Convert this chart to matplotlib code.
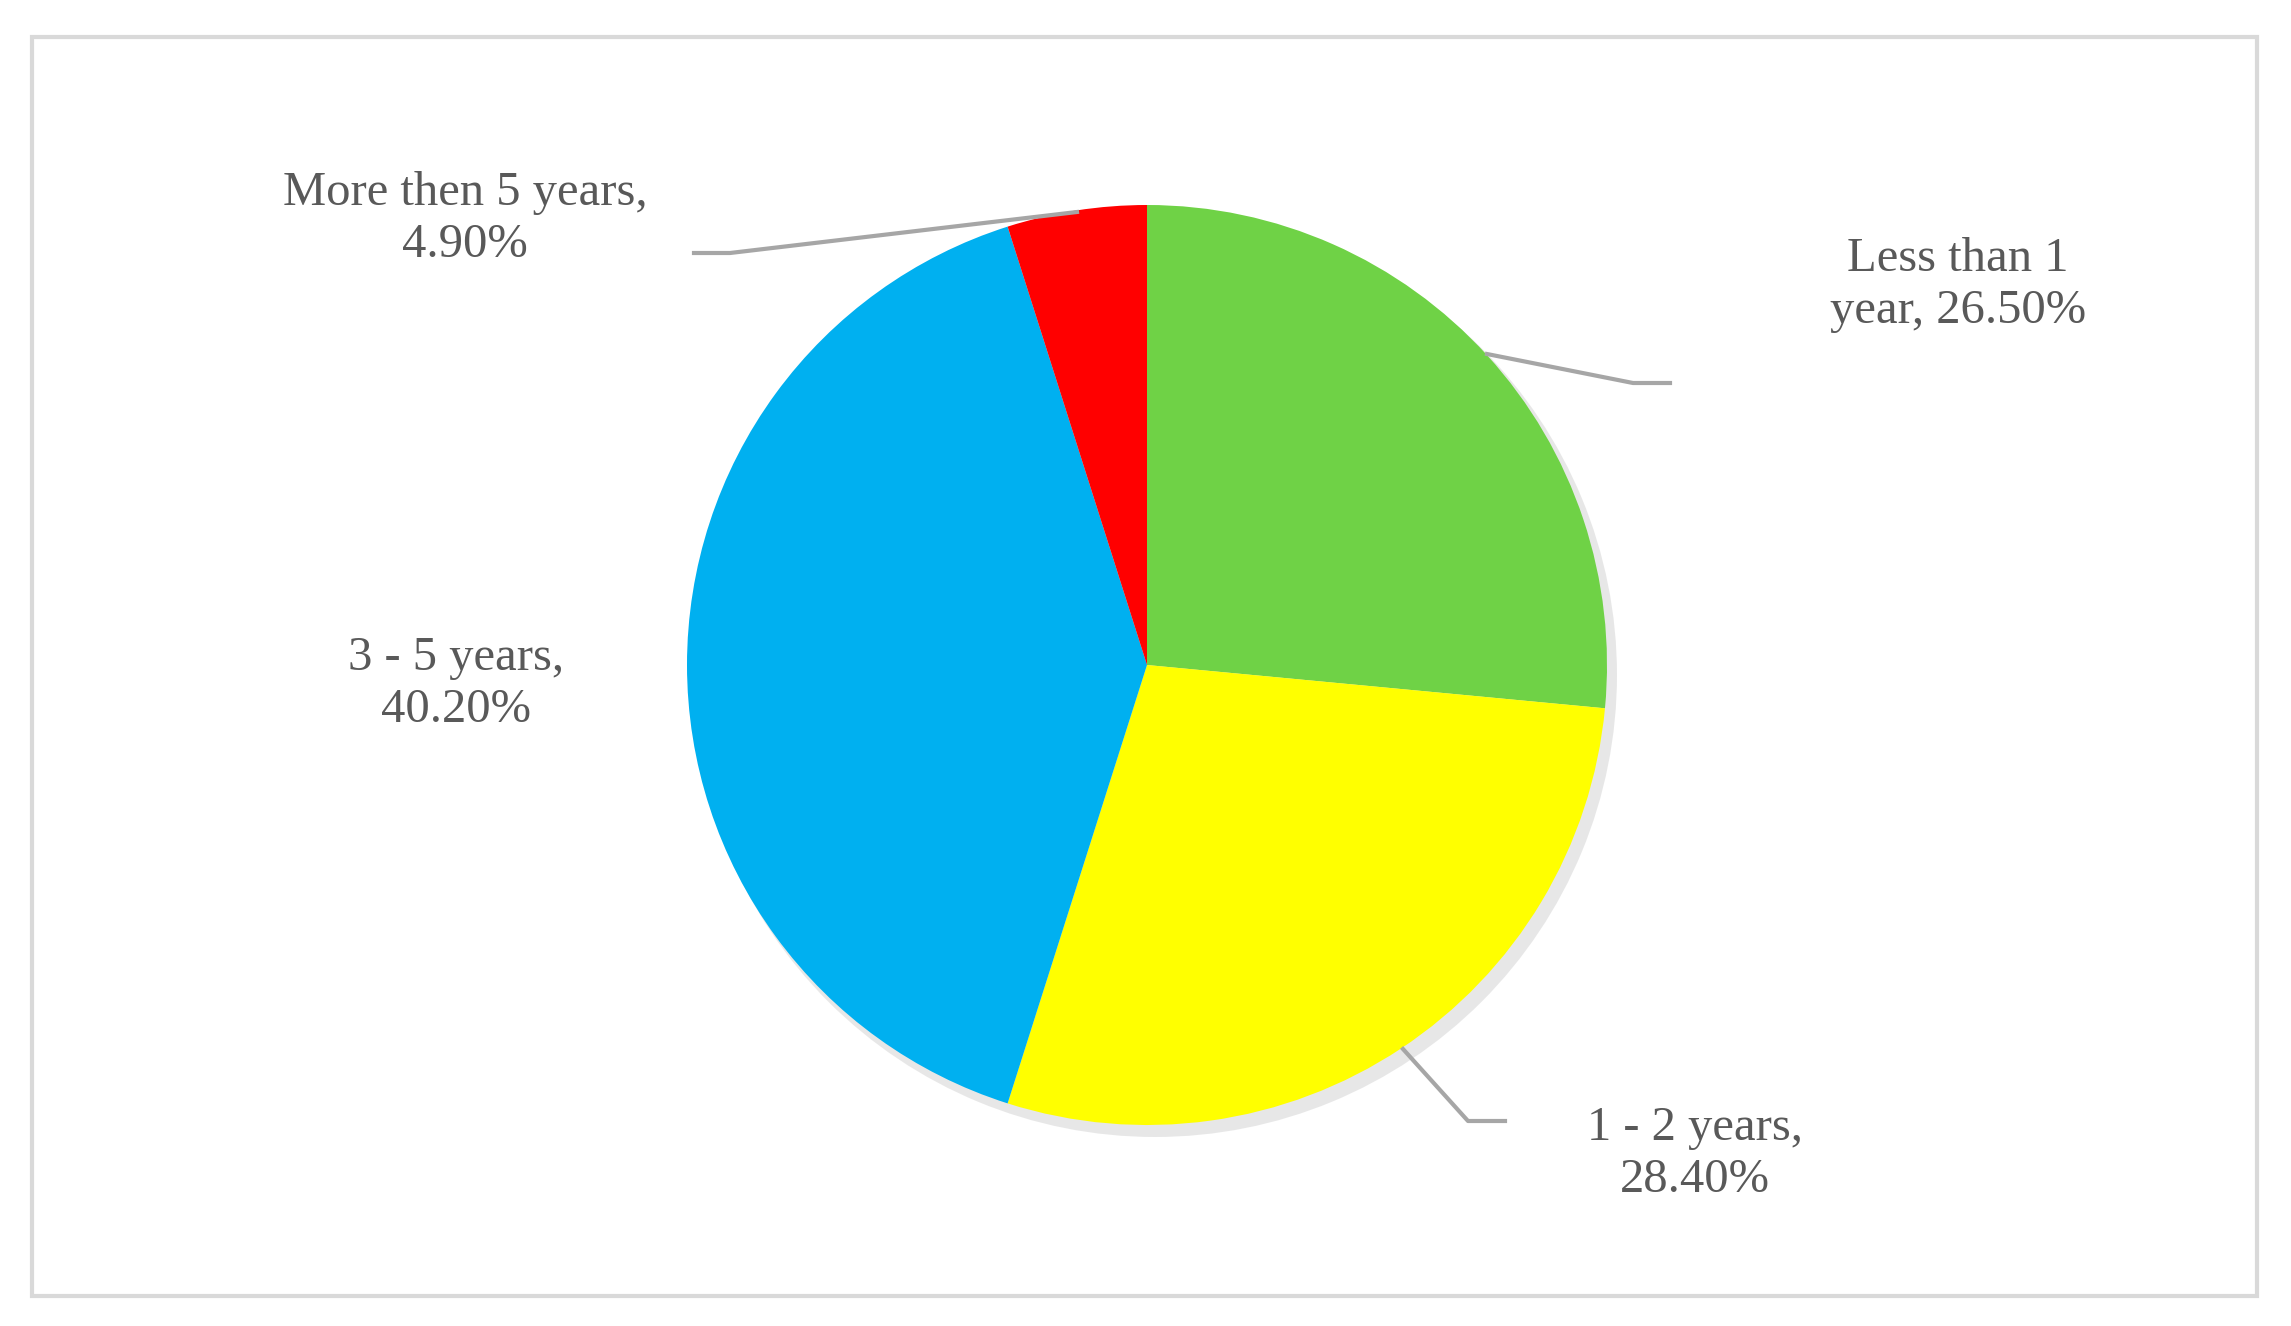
import matplotlib
matplotlib.use("Agg")
import matplotlib.pyplot as plt
from matplotlib.patches import Rectangle

categories = ["Less than 1 year", "1 - 2 years", "3 - 5 years", "More then 5 years"]
values = [26.5, 28.4, 40.2, 4.9]
labels = ["Less than 1\nyear, 26.50%", "1 - 2 years,\n28.40%", "3 - 5 years,\n40.20%", "More then 5 years,\n4.90%"]
colors = ["#6FD246", "#FFFF00", "#00B0F0", "#FF0000"]

W, H = 2291, 1326
fig = plt.figure(figsize=(W/100, H/100), dpi=100)
ax = fig.add_axes([0, 0, 1, 1])
ax.set_xlim(0, W); ax.set_ylim(0, H); ax.set_aspect('equal'); ax.axis('off')

def Y(y): return H - y

ax.add_patch(Rectangle((32, Y(1296)), 2225, 1259, fill=False, ec="#D9D9D9", lw=3))

cx, cy, r = 1147, Y(665), 460
# soft shadow
ax.pie([1], colors=["#d8d8d8"], center=(cx+8, cy-10), radius=r+2, frame=True,
       wedgeprops=dict(linewidth=0, alpha=0.6))
ax.pie(values, colors=colors, startangle=90, counterclock=False, center=(cx, cy), radius=r,
       frame=True, wedgeprops=dict(linewidth=0))
ax.set_xlim(0, W); ax.set_ylim(0, H); ax.axis('off')

tc = "#595959"
font = dict(family="Liberation Serif", fontsize=35, color=tc, ha="center", va="center", linespacing=1.25)
pos = [(1958, 285), (1695, 1154), (456, 684), (465, 219)]
for lab, (x, y) in zip(labels, pos):
    ax.text(x, Y(y), lab, **font)

leaders = [[(1487, 354), (1633, 383), (1670, 383)],
           [(1403, 1049), (1468, 1121), (1505, 1121)],
           [(1077, 212), (730, 253), (694, 253)]]
for pts in leaders:
    ax.plot([p[0] for p in pts], [Y(p[1]) for p in pts], color="#A6A6A6", lw=3)

fig.savefig("out.png", dpi=100)
